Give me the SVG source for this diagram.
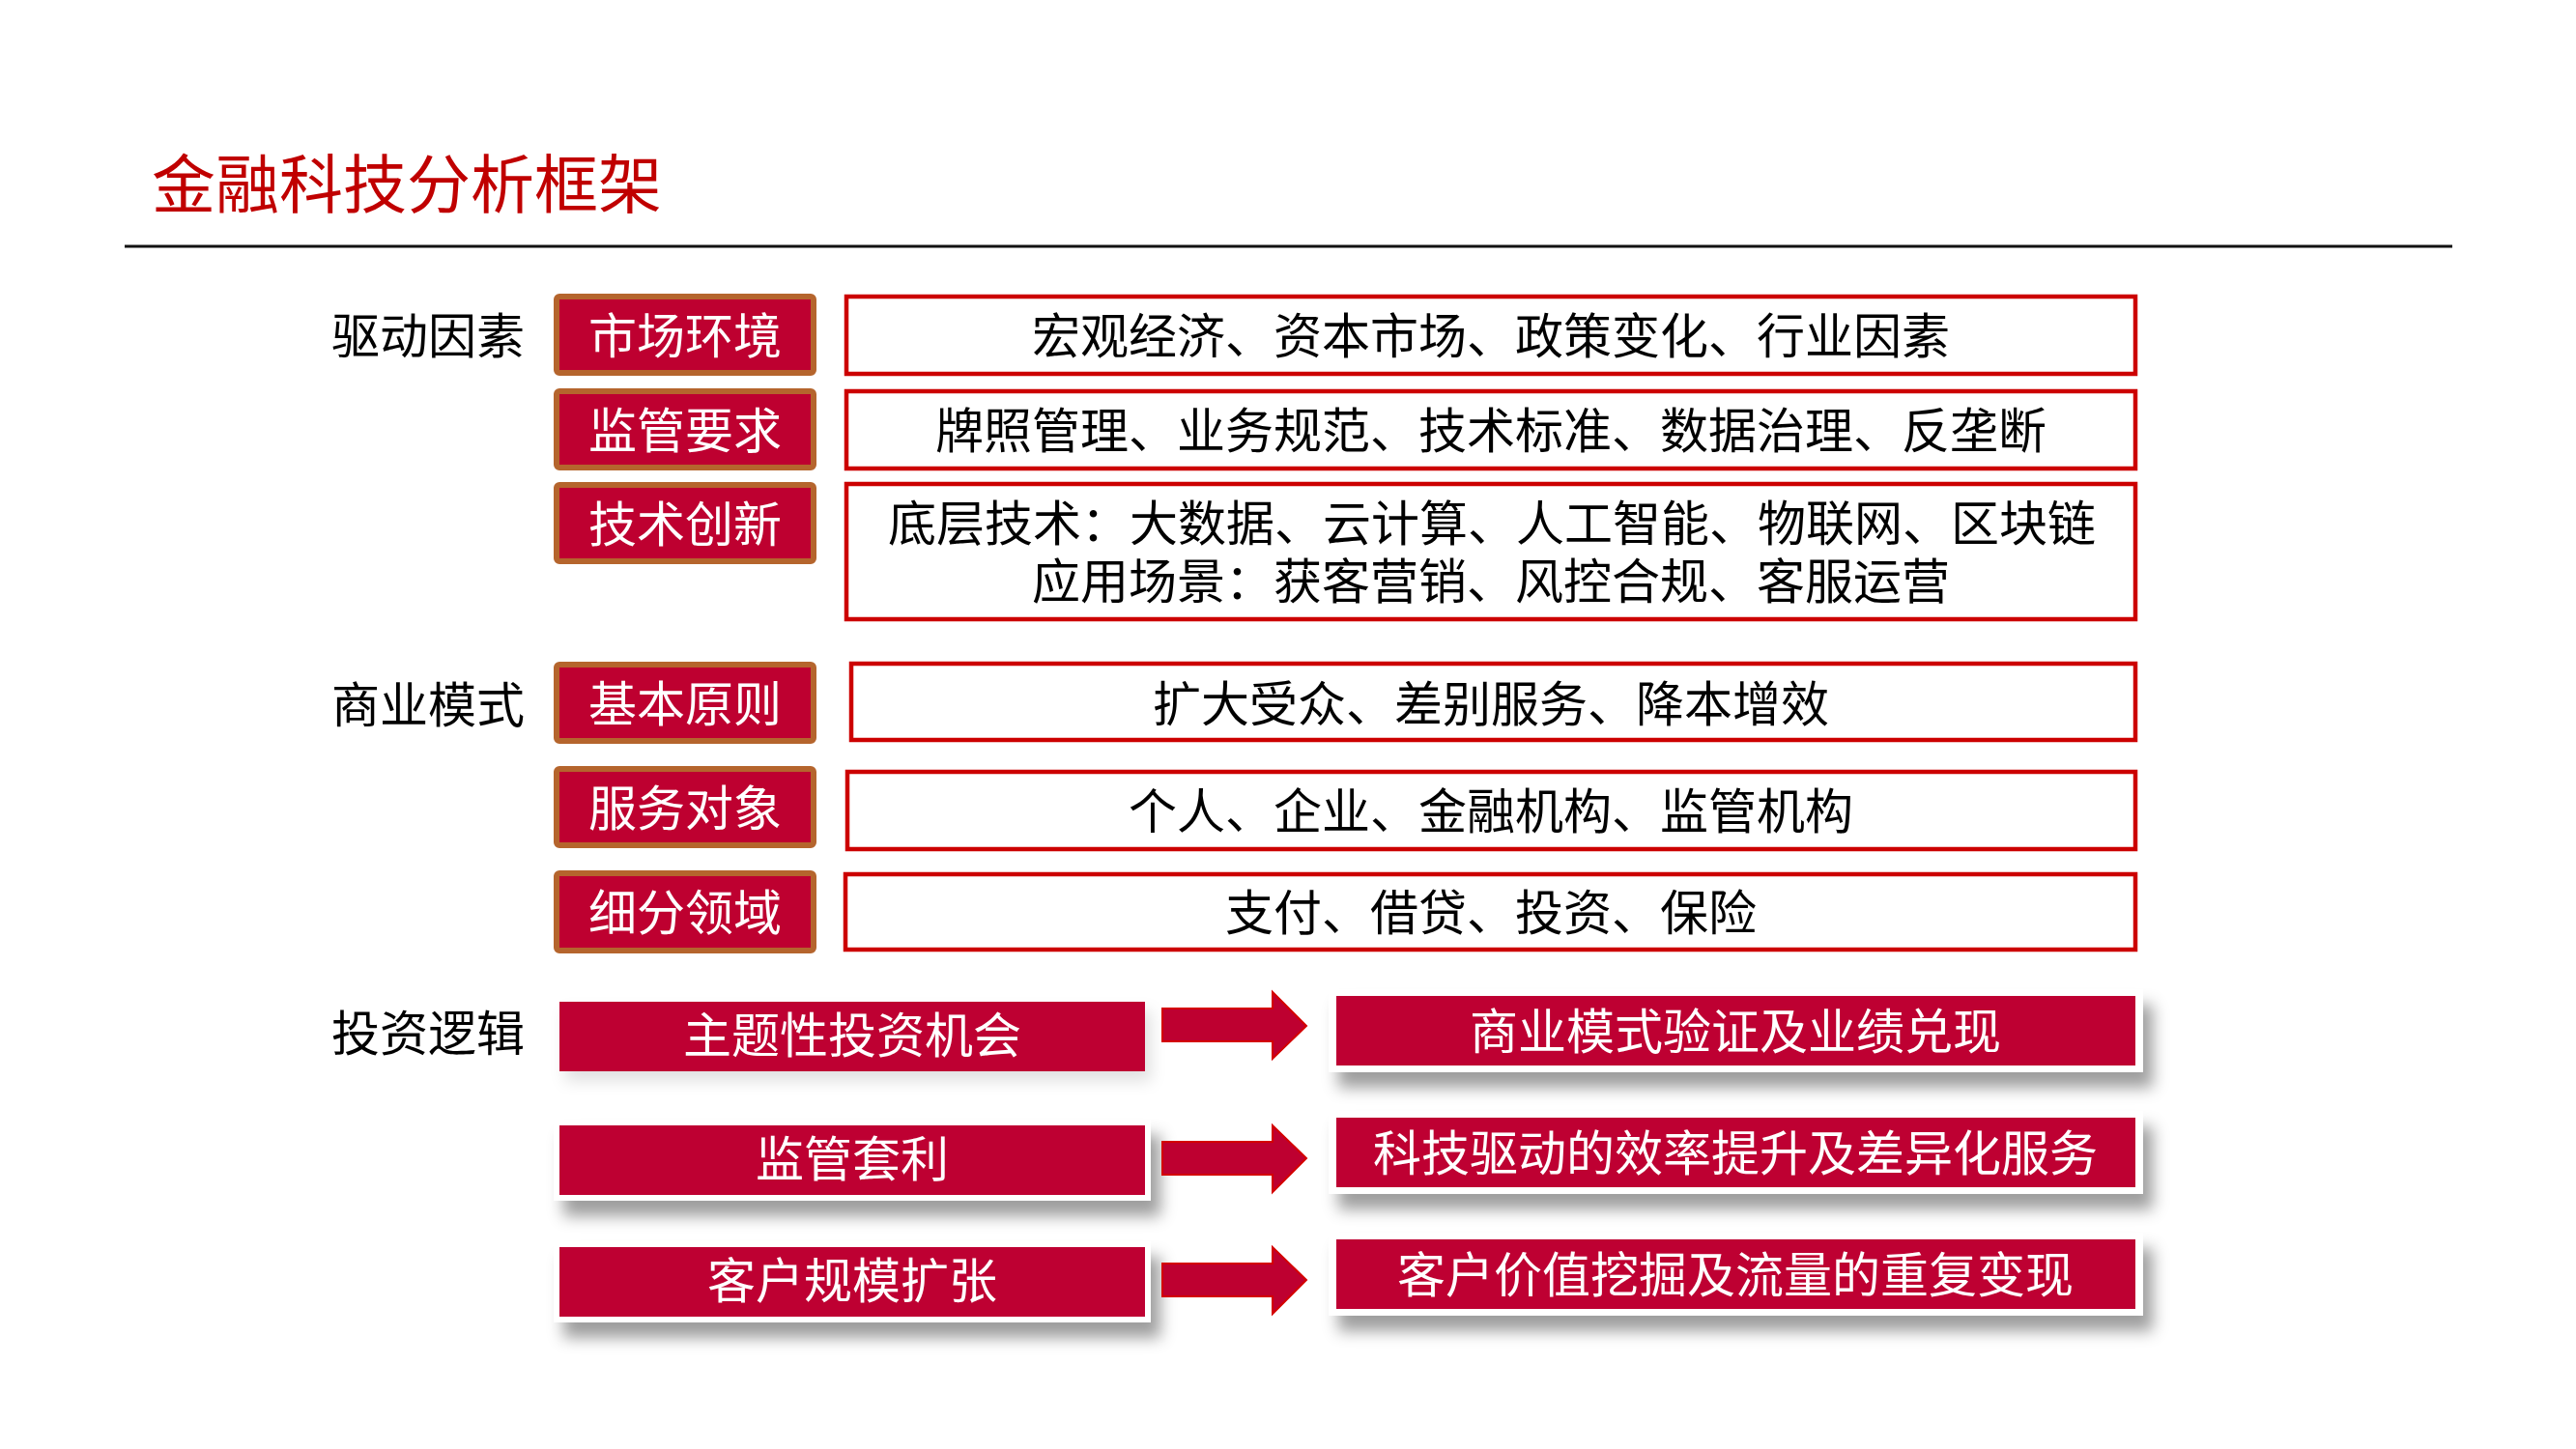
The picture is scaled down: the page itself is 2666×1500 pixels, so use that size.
<svg xmlns="http://www.w3.org/2000/svg" width="2666" height="1500" viewBox="0 0 2666 1500">
<defs>
<style>
.t{font-family:"Noto Sans CJK SC","Noto Sans CJK TC",sans-serif;}
.sec{font-size:50px;fill:#000;text-anchor:end;}
.lab{fill:#BE0030;stroke:#B5652D;stroke-width:6;}
.labt{font-size:50px;fill:#fff;text-anchor:middle;}
.wbox{fill:#fff;stroke:#CC0000;stroke-width:4.5;}
.wt{font-size:50px;fill:#000;text-anchor:middle;}
.red{fill:#BE0030;}
.rt{font-size:50px;fill:#fff;text-anchor:middle;}
.lt{font-size:50px;fill:#fff;text-anchor:middle;}
.arr{fill:#BE0030;stroke:#D40000;stroke-width:2;}
</style>
<filter id="sh" x="-10%" y="-40%" width="130%" height="200%">
<feDropShadow dx="10" dy="16" stdDeviation="8" flood-color="#000" flood-opacity="0.38"/>
</filter>
<filter id="shl" x="-10%" y="-40%" width="130%" height="200%">
<feDropShadow dx="6" dy="10" stdDeviation="8" flood-color="#000" flood-opacity="0.12"/>
</filter>
</defs>
<rect width="2666" height="1500" fill="#fff"/>
<text class="t" x="157" y="215" font-size="66" fill="#C00000">金融科技分析框架</text>
<line x1="129" y1="255" x2="2538" y2="255" stroke="#111" stroke-width="3"/>

<g id="sections">
<text class="t sec" x="543" y="366">驱动因素</text>
<text class="t sec" x="543" y="748">商业模式</text>
<text class="t sec" x="543" y="1088">投资逻辑</text>
</g>

<g id="row-market">
<rect class="lab" x="576" y="307" width="266" height="79" rx="3"/>
<text class="t labt" x="709" y="366">市场环境</text>
<rect class="wbox" x="876" y="307" width="1334" height="80"/>
<text class="t wt" x="1543" y="366">宏观经济、资本市场、政策变化、行业因素</text>
</g>
<g id="row-regulation">
<rect class="lab" x="576" y="405" width="266" height="79" rx="3"/>
<text class="t labt" x="709" y="464">监管要求</text>
<rect class="wbox" x="876" y="405" width="1334" height="80"/>
<text class="t wt" x="1543" y="464">牌照管理、业务规范、技术标准、数据治理、反垄断</text>
</g>
<g id="row-tech">
<rect class="lab" x="576" y="502" width="266" height="79" rx="3"/>
<text class="t labt" x="709" y="561">技术创新</text>
<rect class="wbox" x="876" y="501" width="1334" height="140"/>
<text class="t wt" x="1544" y="560">底层技术：大数据、云计算、人工智能、物联网、区块链</text>
<text class="t wt" x="1543" y="620">应用场景：获客营销、风控合规、客服运营</text>
</g>
<g id="row-principle">
<rect class="lab" x="576" y="688" width="266" height="79" rx="3"/>
<text class="t labt" x="709" y="747">基本原则</text>
<rect class="wbox" x="881" y="687" width="1329" height="79"/>
<text class="t wt" x="1543" y="747">扩大受众、差别服务、降本增效</text>
</g>
<g id="row-target">
<rect class="lab" x="576" y="796" width="266" height="79" rx="3"/>
<text class="t labt" x="709" y="855">服务对象</text>
<rect class="wbox" x="877" y="799" width="1333" height="80"/>
<text class="t wt" x="1543" y="858">个人、企业、金融机构、监管机构</text>
</g>
<g id="row-segment">
<rect class="lab" x="576" y="904" width="266" height="80" rx="3"/>
<text class="t labt" x="709" y="963">细分领域</text>
<rect class="wbox" x="875" y="905" width="1335" height="78"/>
<text class="t wt" x="1543" y="963">支付、借贷、投资、保险</text>
</g>

<g id="inv-theme">
<g filter="url(#shl)"><rect class="red" x="579" y="1037" width="606" height="72"/></g>
<text class="t lt" x="882" y="1090">主题性投资机会</text>
</g>
<g id="inv-arbitrage">
<g filter="url(#sh)"><rect fill="#fff" x="573" y="1159" width="618" height="84"/><rect class="red" x="579" y="1165" width="606" height="72"/></g>
<text class="t lt" x="882" y="1218">监管套利</text>
</g>
<g id="inv-scale">
<g filter="url(#sh)"><rect fill="#fff" x="573" y="1285" width="618" height="84"/><rect class="red" x="579" y="1291" width="606" height="72"/></g>
<text class="t lt" x="882" y="1344">客户规模扩张</text>
</g>

<g id="res-model">
<g filter="url(#sh)"><rect fill="#fff" x="1375" y="1024" width="843" height="86"/><rect class="red" x="1383" y="1031" width="827" height="72"/></g>
<text class="t rt" x="1796" y="1086">商业模式验证及业绩兑现</text>
</g>
<g id="res-efficiency">
<g filter="url(#sh)"><rect fill="#fff" x="1375" y="1150" width="843" height="86"/><rect class="red" x="1383" y="1157" width="827" height="72"/></g>
<text class="t rt" x="1796" y="1212">科技驱动的效率提升及差异化服务</text>
</g>
<g id="res-monetize">
<g filter="url(#sh)"><rect fill="#fff" x="1375" y="1276" width="843" height="86"/><rect class="red" x="1383" y="1283" width="827" height="72"/></g>
<text class="t rt" x="1796" y="1338">客户价值挖掘及流量的重复变现</text>
</g>

<g id="connectors">
<polygon class="arr" points="1203,1044 1317,1044 1317,1027 1352,1062 1317,1096 1317,1078 1203,1078"/>
<polygon class="arr" points="1203,1182 1317,1182 1317,1165 1352,1199 1317,1234 1317,1216 1203,1216"/>
<polygon class="arr" points="1203,1308 1317,1308 1317,1291 1352,1325 1317,1360 1317,1342 1203,1342"/>
</g>
</svg>
